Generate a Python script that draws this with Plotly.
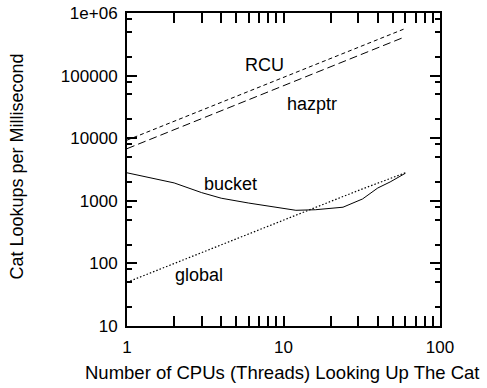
import numpy as np
import plotly.graph_objects as go

# CPU counts (threads) and lookup rates, cat lookups per millisecond
cpus_rcu = [1, 2, 4, 8, 16, 24, 32, 48, 60]
rcu = [9300, 18600, 37000, 74000, 148000, 222000, 298000, 445000, 565000]

cpus_hazptr = [1, 2, 4, 8, 16, 24, 32, 48, 60]
hazptr = [6800, 13700, 27500, 55000, 110000, 165000, 222000, 333000, 418000]

cpus_bucket = [1, 2, 3, 4, 6, 8, 12, 16, 24, 32, 40, 48, 60]
bucket = [2800, 1930, 1350, 1100, 920, 820, 705, 720, 790, 1070, 1600, 2000, 2750]

cpus_global = [1, 2, 4, 8, 10, 16, 24, 32, 48, 60]
global_ = [50, 100, 195, 390, 490, 780, 1170, 1550, 2300, 2800]

x_ticks = [1, 10, 100]
x_ticktext = ["1", "10", "100"]

y_ticks = [10, 100, 1000, 10000, 100000, 1000000]
y_ticktext = ["10", "100", "1000", "10000", "100000", "1e+06"]
# extra minor ticks at 8 x 10^n, drawn on an overlaid twin axis
y_minor8 = [80, 800, 8000, 80000, 800000]

FONT = "Liberation Sans, Arial, Helvetica, sans-serif"

fig = go.Figure()
fig.add_trace(go.Scatter(x=cpus_rcu, y=rcu, mode="lines",
                         line=dict(color="black", width=1, dash="4px,3px")))
fig.add_trace(go.Scatter(x=cpus_hazptr, y=hazptr, mode="lines",
                         line=dict(color="black", width=1, dash="8px,4px")))
fig.add_trace(go.Scatter(x=cpus_bucket, y=bucket, mode="lines",
                         line=dict(color="black", width=1)))
fig.add_trace(go.Scatter(x=cpus_global, y=global_, mode="lines", yaxis="y2",
                         line=dict(color="black", width=1.2, dash="1.5px,2px")))

# curve labels placed beside each line (x, y in data units)
labels = [("RCU", 7.6, 150000), ("hazptr", 15.3, 35000),
          ("bucket", 4.6, 1850), ("global", 2.9, 65)]
for text, lx, ly in labels:
    fig.add_annotation(x=np.log10(lx), y=np.log10(ly), xref="x", yref="y",
                       text=text, showarrow=False,
                       font=dict(family=FONT, size=18, color="black"))

# axis titles
fig.add_annotation(x=0.497, y=-0.147, xref="paper", yref="paper",
                   xanchor="center", yanchor="middle", showarrow=False,
                   text="Number of CPUs (Threads) Looking Up The Cat",
                   font=dict(family=FONT, size=18.5, color="black"))
fig.add_annotation(x=-0.351, y=0.51, xref="paper", yref="paper",
                   xanchor="center", yanchor="middle", showarrow=False,
                   textangle=-90, text="Cat Lookups per Millisecond",
                   font=dict(family=FONT, size=18, color="black"))

axis_common = dict(
    showline=True, linecolor="black", linewidth=2, mirror="allticks",
    ticks="inside", ticklen=10, tickwidth=2, tickcolor="black",
    showgrid=False, zeroline=False, automargin=False,
    tickfont=dict(family=FONT, size=17, color="black"),
)

fig.update_xaxes(
    type="log", range=[0, 2], tickmode="array", tickvals=x_ticks,
    ticktext=x_ticktext, ticklabelstandoff=5,
    minor=dict(dtick="D1", ticks="inside", ticklen=5, tickwidth=2,
               tickcolor="black", showgrid=False),
    **axis_common,
)
fig.update_yaxes(
    type="log", range=[1, 6], tickmode="array", tickvals=y_ticks,
    ticktext=y_ticktext, ticklabelstandoff=4,
    minor=dict(dtick="D2", ticks="inside", ticklen=5, tickwidth=2,
               tickcolor="black", showgrid=False),
    **axis_common,
)

fig.update_layout(
    yaxis2=dict(
        type="log", range=[1, 6], overlaying="y", side="left",
        tickmode="array", tickvals=y_minor8, showticklabels=False,
        ticks="inside", ticklen=5, tickwidth=2, tickcolor="black",
        mirror="allticks", showline=False, showgrid=False,
        zeroline=False, automargin=False,
    ),
    width=487, height=388,
    margin=dict(l=127, r=47, t=13, b=62),
    paper_bgcolor="white", plot_bgcolor="white",
    showlegend=False,
)

fig.write_html("out.html")
